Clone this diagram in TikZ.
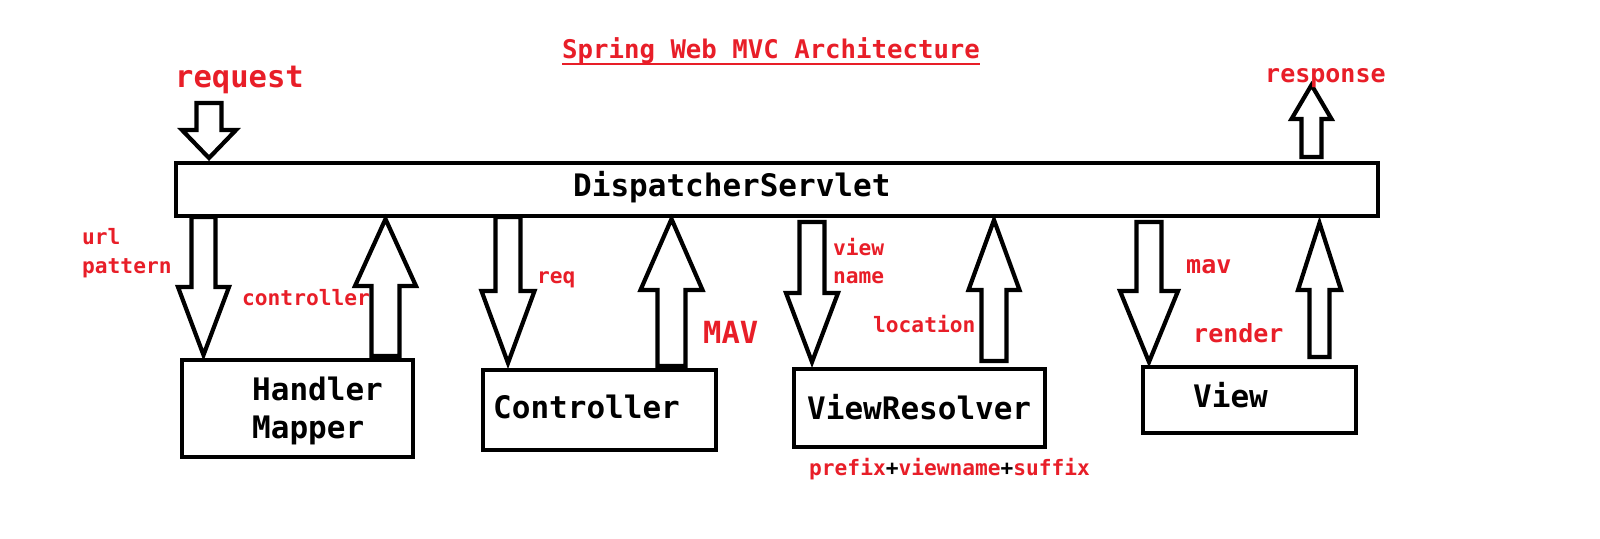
\documentclass[tikz,border=0pt]{standalone}
\usepackage{fontspec}
\setmainfont{DejaVu Sans Mono}
\definecolor{lblred}{RGB}{232,30,40}
\newcommand\blkarrow[6]{\draw[blk] (#1-#2,#4) -- (#1+#2,#4) -- (#1+#2,#5) -- (#1+#3,#5) -- (#1,#6) -- (#1-#3,#5) -- (#1-#2,#5) -- cycle;}
\begin{document}
\begin{tikzpicture}[x=1pt,y=-1pt,
  blk/.style={draw=black,line width=4.2pt,fill=white,line join=miter},
  boxn/.style={draw=black,line width=4.2pt,fill=white,inner sep=0,anchor=north west},
  bigtxt/.style={font=\fontsize{31}{38}\selectfont\bfseries,inner sep=0,anchor=base west,text=black},
  redbig/.style={font=\fontsize{30.5}{36}\selectfont\bfseries,inner sep=0,anchor=base west,text=lblred},
  redmid/.style={font=\fontsize{25}{30}\selectfont\bfseries,inner sep=0,anchor=base west,text=lblred},
  redsmall/.style={font=\fontsize{21.2}{29}\selectfont\bfseries,inner sep=0,anchor=base west,text=lblred,align=left}]
\useasboundingbox (0,0) rectangle (1600,538);
\fill[white] (0,0) rectangle (1600,538);
% title
\node[redmid,font=\fontsize{25.7}{30}\selectfont\bfseries] (title) at (562,58) {Spring Web MVC Architecture};
\draw[lblred,line width=2.6pt] ([yshift=-6pt]title.base west) -- ([yshift=-6pt]title.base east);
% boxes
\node[boxn,minimum width=1202pt,minimum height=53pt] (ds) at (174,161) {};
\node[boxn,minimum width=231pt,minimum height=97pt] (hm) at (180,358) {};
\node[boxn,minimum width=233pt,minimum height=80pt] (ct) at (481,368) {};
\node[boxn,minimum width=251pt,minimum height=78pt] (vr) at (792,367) {};
\node[boxn,minimum width=213pt,minimum height=66pt] (vw) at (1141,365) {};
% box texts
\node[bigtxt] (dstxt) at (573,196) {DispatcherServlet};
\node[bigtxt] (hmtxt1) at (252,400) {Handler};
\node[bigtxt] (hmtxt2) at (252,438) {Mapper};
\node[bigtxt] (cttxt) at (493,418) {Controller};
\node[bigtxt] (vrtxt) at (807,419) {ViewResolver};
\node[bigtxt] (vwtxt) at (1193,407) {View};
% block arrows: cx, shaft half, head half, base y, head-base y, tip y
\blkarrow{209}{12.5}{27}{103}{130}{158}
\blkarrow{1311.5}{10}{20}{157}{119}{85}
\blkarrow{203.5}{12}{25.5}{217}{287}{355}
\blkarrow{385.5}{14}{30.5}{356}{286}{219}
\blkarrow{508}{12.5}{26.5}{217}{291}{363}
\blkarrow{671.5}{14}{31}{366}{290}{219}
\blkarrow{812}{12.5}{26}{222}{293}{362}
\blkarrow{994}{12.5}{25.5}{361}{290}{220}
\blkarrow{1149}{12.5}{29}{222}{291}{362}
\blkarrow{1319.5}{10}{21.5}{357}{290}{223}
% red labels
\node[redbig] (req1) at (175,87) {request};
\node[redmid] (resp) at (1265,82) {response};
\node[redsmall] (url1) at (82,244) {url};
\node[redsmall] (url2) at (82,273) {pattern};
\node[redsmall] (ctl) at (242,305) {controller};
\node[redsmall] (reql) at (537,283) {req};
\node[redbig] (mavb) at (703,343) {MAV};
\node[redsmall] (vn1) at (833,255) {view};
\node[redsmall] (vn2) at (833,283) {name};
\node[redsmall] (loc) at (873,332) {location};
\node[redmid] (mavs) at (1186,273) {mav};
\node[redmid] (rend) at (1193,342) {render};
\node[redsmall] (pvs) at (809,475) {prefix\textcolor{black}{+}viewname\textcolor{black}{+}suffix};
\end{tikzpicture}
\end{document}
